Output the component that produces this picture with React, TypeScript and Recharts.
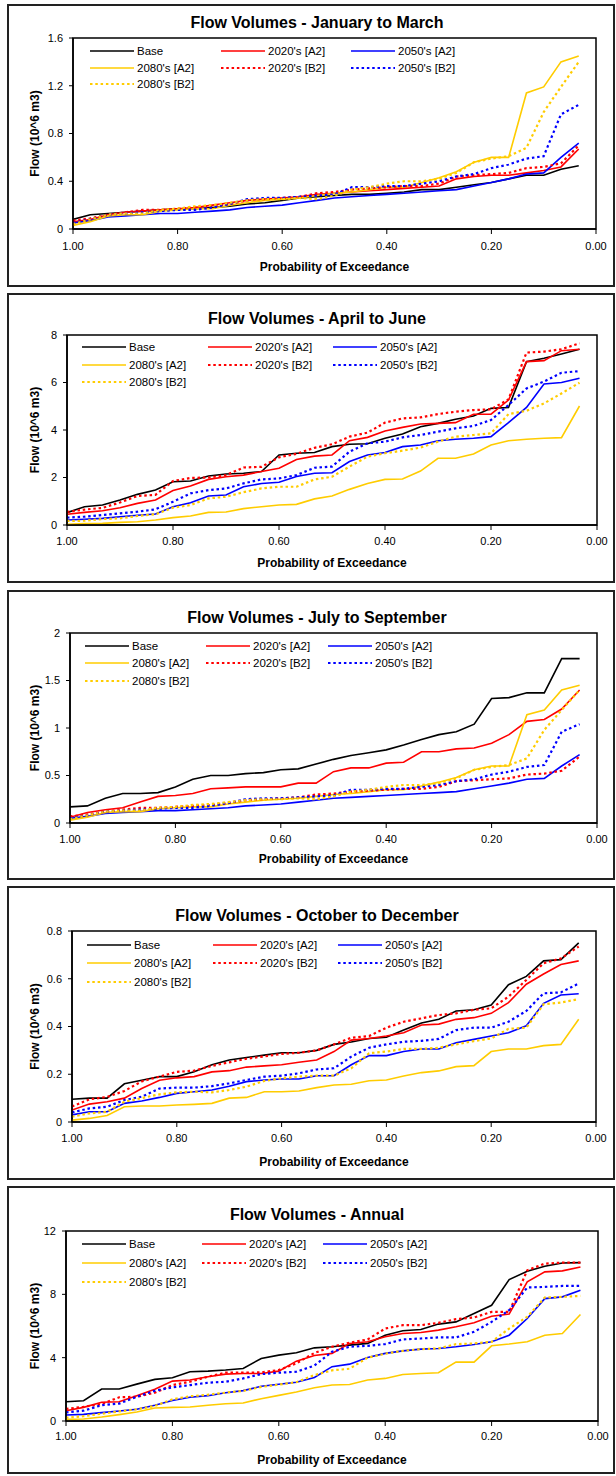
import React from "react";
import { LineChart, Line, XAxis, YAxis, ReferenceArea } from "recharts";

// probability of exceedance for each of the 30 ranked values
const probability = [
  1.0, 0.967, 0.933, 0.9, 0.867, 0.833, 0.8, 0.767, 0.733, 0.7, 0.667, 0.633, 0.6, 0.567, 0.533,
  0.5, 0.467, 0.433, 0.4, 0.367, 0.333, 0.3, 0.267, 0.233, 0.2, 0.167, 0.133, 0.1, 0.067, 0.033,
];
const xTicks = [0, 0.2, 0.4, 0.6, 0.8, 1];

const seriesNames = ["Base", "2020's [A2]", "2050's [A2]", "2080's [A2]", "2020's [B2]", "2050's [B2]", "2080's [B2]"];
const seriesKeys = ["base", "a2020", "a2050", "a2080", "b2020", "b2050", "b2080"];
const seriesColors = ["#000000", "#ff0000", "#0000ff", "#ffcc00", "#ff0000", "#0000ff", "#ffcc00"];
const seriesDotted = [false, false, false, false, true, true, true];

// January to March
const janMarBase = [0.08, 0.12, 0.13, 0.14, 0.15, 0.16, 0.17, 0.17, 0.18, 0.19, 0.21, 0.22, 0.24, 0.26, 0.27, 0.28, 0.29, 0.29, 0.3, 0.31, 0.33, 0.33, 0.35, 0.37, 0.39, 0.42, 0.45, 0.45, 0.5, 0.53];
const janMarA2020 = [0.06, 0.08, 0.12, 0.14, 0.15, 0.16, 0.17, 0.18, 0.2, 0.22, 0.24, 0.25, 0.26, 0.27, 0.29, 0.3, 0.31, 0.32, 0.33, 0.34, 0.35, 0.36, 0.42, 0.44, 0.45, 0.45, 0.47, 0.49, 0.52, 0.67];
const janMarA2050 = [0.05, 0.07, 0.1, 0.11, 0.12, 0.13, 0.13, 0.14, 0.15, 0.16, 0.18, 0.19, 0.2, 0.22, 0.24, 0.26, 0.27, 0.28, 0.29, 0.3, 0.31, 0.32, 0.33, 0.36, 0.39, 0.42, 0.46, 0.47, 0.6, 0.72];
const janMarA2080 = [0.03, 0.06, 0.11, 0.12, 0.12, 0.15, 0.16, 0.17, 0.17, 0.2, 0.22, 0.24, 0.25, 0.26, 0.28, 0.3, 0.31, 0.33, 0.35, 0.35, 0.39, 0.43, 0.48, 0.56, 0.6, 0.6, 1.14, 1.19, 1.4, 1.45];
const janMarB2020 = [0.07, 0.09, 0.12, 0.14, 0.16, 0.16, 0.17, 0.18, 0.19, 0.21, 0.24, 0.25, 0.26, 0.27, 0.3, 0.31, 0.33, 0.34, 0.35, 0.36, 0.36, 0.38, 0.44, 0.45, 0.46, 0.47, 0.51, 0.52, 0.55, 0.7];
const janMarB2050 = [0.05, 0.08, 0.12, 0.13, 0.14, 0.15, 0.16, 0.16, 0.18, 0.21, 0.25, 0.26, 0.26, 0.27, 0.28, 0.29, 0.35, 0.35, 0.36, 0.36, 0.38, 0.4, 0.44, 0.46, 0.51, 0.54, 0.59, 0.61, 0.96, 1.04];
const janMarB2080 = [0.04, 0.08, 0.12, 0.13, 0.13, 0.16, 0.17, 0.19, 0.2, 0.22, 0.24, 0.25, 0.25, 0.26, 0.25, 0.28, 0.33, 0.35, 0.38, 0.4, 0.4, 0.42, 0.47, 0.56, 0.59, 0.61, 0.68, 0.98, 1.19, 1.4];

// April to June
const aprJunBase = [0.52, 0.77, 0.84, 1.05, 1.29, 1.47, 1.82, 1.85, 2.06, 2.15, 2.18, 2.25, 2.95, 3.02, 3.05, 3.3, 3.4, 3.42, 3.65, 3.83, 4.14, 4.28, 4.45, 4.59, 4.91, 4.95, 6.88, 7.02, 7.2, 7.4];
const aprJunA2020 = [0.45, 0.53, 0.6, 0.73, 0.91, 1.05, 1.45, 1.64, 1.92, 2.03, 2.1, 2.25, 2.39, 2.76, 2.9, 2.95, 3.55, 3.69, 3.96, 4.11, 4.25, 4.28, 4.31, 4.66, 4.67, 5.26, 6.88, 6.92, 7.34, 7.4];
const aprJunA2050 = [0.21, 0.24, 0.28, 0.35, 0.41, 0.46, 0.77, 0.94, 1.22, 1.26, 1.61, 1.75, 1.8, 2.04, 2.18, 2.2, 2.67, 2.95, 3.05, 3.3, 3.37, 3.55, 3.61, 3.65, 3.72, 4.31, 4.95, 5.94, 6.0, 6.18];
const aprJunA2080 = [0.03, 0.06, 0.07, 0.11, 0.14, 0.21, 0.31, 0.38, 0.53, 0.55, 0.69, 0.77, 0.84, 0.87, 1.1, 1.22, 1.5, 1.75, 1.92, 1.94, 2.27, 2.81, 2.81, 2.99, 3.37, 3.55, 3.61, 3.65, 3.68, 5.01];
const aprJunB2020 = [0.55, 0.65, 0.72, 0.95, 1.22, 1.27, 1.85, 1.98, 2.0, 2.1, 2.42, 2.45, 2.85, 3.0, 3.25, 3.4, 3.72, 3.89, 4.31, 4.49, 4.53, 4.67, 4.77, 4.84, 4.87, 5.29, 7.26, 7.3, 7.4, 7.65];
const aprJunB2050 = [0.31, 0.35, 0.42, 0.49, 0.56, 0.66, 0.98, 1.33, 1.47, 1.54, 1.75, 1.92, 1.96, 2.1, 2.41, 2.46, 3.09, 3.44, 3.51, 3.69, 3.79, 3.93, 4.07, 4.17, 4.42, 5.05, 5.75, 6.04, 6.41, 6.48];
const aprJunB2080 = [0.17, 0.18, 0.25, 0.28, 0.38, 0.45, 0.73, 0.84, 1.12, 1.19, 1.38, 1.54, 1.61, 1.61, 1.92, 2.03, 2.46, 2.88, 3.02, 3.13, 3.26, 3.51, 3.72, 3.79, 3.86, 4.67, 4.81, 5.12, 5.54, 5.99];

// July to September (the scenario curves repeat the January to March ones in the source)
const julSepBase = [0.17, 0.18, 0.26, 0.31, 0.31, 0.32, 0.38, 0.46, 0.5, 0.5, 0.52, 0.53, 0.56, 0.57, 0.62, 0.67, 0.71, 0.74, 0.77, 0.82, 0.88, 0.93, 0.96, 1.04, 1.31, 1.32, 1.37, 1.37, 1.73, 1.73];
const julSepA2020 = [0.06, 0.11, 0.14, 0.16, 0.22, 0.28, 0.29, 0.31, 0.36, 0.37, 0.38, 0.38, 0.38, 0.42, 0.42, 0.54, 0.58, 0.58, 0.63, 0.64, 0.75, 0.75, 0.78, 0.79, 0.84, 0.93, 1.07, 1.09, 1.2, 1.4];

// October to December
const octDecBase = [0.095, 0.1, 0.1, 0.16, 0.175, 0.19, 0.19, 0.21, 0.24, 0.26, 0.27, 0.28, 0.29, 0.29, 0.3, 0.325, 0.335, 0.35, 0.355, 0.385, 0.415, 0.43, 0.465, 0.47, 0.49, 0.575, 0.61, 0.675, 0.68, 0.75];
const octDecA2020 = [0.05, 0.075, 0.085, 0.1, 0.14, 0.175, 0.185, 0.19, 0.21, 0.215, 0.23, 0.235, 0.24, 0.25, 0.26, 0.295, 0.343, 0.35, 0.36, 0.374, 0.406, 0.41, 0.43, 0.437, 0.455, 0.5, 0.577, 0.62, 0.66, 0.675];
const octDecA2050 = [0.03, 0.043, 0.043, 0.078, 0.088, 0.103, 0.12, 0.127, 0.134, 0.15, 0.169, 0.176, 0.18, 0.18, 0.194, 0.194, 0.24, 0.278, 0.278, 0.295, 0.306, 0.306, 0.332, 0.346, 0.36, 0.374, 0.403, 0.497, 0.532, 0.537];
const octDecA2080 = [0.008, 0.015, 0.027, 0.064, 0.067, 0.067, 0.071, 0.074, 0.078, 0.1, 0.103, 0.127, 0.127, 0.13, 0.144, 0.155, 0.158, 0.173, 0.176, 0.193, 0.207, 0.214, 0.232, 0.236, 0.295, 0.306, 0.306, 0.32, 0.325, 0.43];
const octDecB2020 = [0.065, 0.095, 0.105, 0.13, 0.17, 0.19, 0.21, 0.215, 0.235, 0.25, 0.265, 0.275, 0.285, 0.29, 0.3, 0.325, 0.353, 0.36, 0.395, 0.42, 0.434, 0.448, 0.455, 0.47, 0.476, 0.525, 0.595, 0.665, 0.685, 0.735];
const octDecB2050 = [0.04, 0.057, 0.064, 0.092, 0.106, 0.14, 0.144, 0.144, 0.15, 0.162, 0.176, 0.19, 0.194, 0.204, 0.22, 0.225, 0.274, 0.311, 0.325, 0.336, 0.34, 0.348, 0.385, 0.395, 0.395, 0.42, 0.465, 0.539, 0.543, 0.58];
const octDecB2080 = [0.022, 0.036, 0.043, 0.085, 0.1, 0.116, 0.124, 0.127, 0.124, 0.134, 0.148, 0.172, 0.183, 0.19, 0.194, 0.194, 0.225, 0.288, 0.295, 0.306, 0.306, 0.311, 0.325, 0.339, 0.35, 0.39, 0.395, 0.493, 0.5, 0.515];

// Annual
const annualBase = [1.22, 1.28, 2.02, 2.02, 2.33, 2.63, 2.73, 3.11, 3.15, 3.22, 3.32, 3.95, 4.16, 4.31, 4.62, 4.69, 4.79, 4.9, 5.42, 5.7, 5.78, 6.12, 6.26, 6.79, 7.31, 8.93, 9.46, 9.77, 9.98, 10.0];
const annualA2020 = [0.65, 0.86, 1.18, 1.22, 1.6, 2.0, 2.52, 2.59, 2.8, 2.96, 3.0, 3.0, 3.15, 3.78, 4.14, 4.27, 4.9, 5.0, 5.32, 5.53, 5.59, 5.74, 5.95, 6.2, 6.62, 6.75, 8.79, 9.42, 9.48, 9.73];
const annualA2050 = [0.38, 0.42, 0.53, 0.63, 0.74, 0.99, 1.3, 1.5, 1.6, 1.78, 1.92, 2.19, 2.32, 2.45, 2.75, 3.43, 3.59, 4.01, 4.27, 4.43, 4.54, 4.58, 4.69, 4.83, 5.0, 5.42, 6.47, 7.73, 7.84, 8.26];
const annualA2080 = [0.1, 0.13, 0.25, 0.4, 0.57, 0.82, 0.86, 0.88, 0.99, 1.09, 1.14, 1.41, 1.62, 1.83, 2.1, 2.27, 2.31, 2.59, 2.69, 2.94, 3.0, 3.05, 3.72, 3.72, 4.75, 4.86, 5.0, 5.42, 5.53, 6.73];
const annualB2020 = [0.76, 0.9, 1.07, 1.5, 1.53, 1.79, 2.27, 2.48, 2.8, 3.05, 3.05, 3.07, 3.22, 3.64, 4.3, 4.69, 4.94, 5.15, 5.84, 6.05, 6.05, 6.2, 6.43, 6.54, 6.89, 6.89, 9.52, 9.94, 10.0, 10.0];
const annualB2050 = [0.55, 0.65, 1.0, 1.1, 1.53, 1.91, 2.12, 2.27, 2.42, 2.48, 2.69, 2.96, 3.05, 3.11, 3.5, 4.37, 4.69, 4.75, 4.86, 5.15, 5.21, 5.28, 5.28, 5.63, 6.26, 7.0, 8.43, 8.47, 8.53, 8.53];
const annualB2080 = [0.21, 0.3, 0.46, 0.61, 0.74, 0.95, 1.37, 1.56, 1.66, 1.79, 1.9, 2.15, 2.3, 2.45, 2.9, 3.2, 3.3, 4.0, 4.25, 4.43, 4.54, 4.58, 4.85, 4.9, 5.0, 5.84, 6.58, 7.8, 7.84, 7.9];

const janMarTicks = [0, 0.4, 0.8, 1.2, 1.6];
const aprJunTicks = [0, 2, 4, 6, 8];
const julSepTicks = [0, 0.5, 1, 1.5, 2];
const octDecTicks = [0, 0.2, 0.4, 0.6, 0.8];
const annualTicks = [0, 4, 8, 12];

const FONT = '"Liberation Sans", Arial, sans-serif';

type PanelProps = {
  title: string;
  top: number;
  height: number;
  plot: { l: number; r: number; t: number; b: number };
  titleY: number;
  yTicks: number[];
  values: number[][];
  legendX: number[];
  legendY: number[];
  tickGap: number;
  labelGap: number;
};

const LegendSample = ({ color, dotted }: { color: string; dotted: boolean }) => (
  <svg width={44} height={4} style={{ position: "absolute", left: 0, top: -2 }}>
    <line x1={0} y1={2} x2={44} y2={2} stroke={color} strokeWidth={dotted ? 2.2 : 1.6} strokeDasharray={dotted ? "2.5 2.8" : undefined} />
  </svg>
);

const Panel = ({ title, top, height, plot, titleY, yTicks, values, legendX, legendY, tickGap, labelGap }: PanelProps) => {
  const rows = probability.map((p, i) => {
    const row: Record<string, number> = { p };
    seriesKeys.forEach((k, j) => {
      row[k] = values[j][i];
    });
    return row;
  });
  const yMax = yTicks[yTicks.length - 1];
  const pt = plot.t - top;
  const pb = plot.b - top;
  const xAxisH = 45;

  return (
    <div style={{ position: "absolute", left: 0, top, width: 616, height }}>
      <div style={{ position: "absolute", left: 7, top: 0, width: 608, height, border: "2px solid #222", boxSizing: "border-box" }} />
      <div style={{ position: "absolute", left: 0, top: titleY - top - 10, width: 634, textAlign: "center", fontSize: 16, fontWeight: "bold", lineHeight: "20px" }}>
        {title}
      </div>
      <div style={{ position: "absolute", left: 0, top: 0 }}>
        <LineChart width={616} height={height} data={rows} margin={{ top: pt, right: 616 - plot.r, bottom: height - pb - xAxisH, left: 0 }}>
          <ReferenceArea x1={0} x2={1} y1={0} y2={yMax} fill="none" stroke="#000" strokeWidth={1.5} />
          <XAxis
            type="number"
            dataKey="p"
            domain={[0, 1]}
            ticks={xTicks}
            reversed
            allowDataOverflow
            height={xAxisH}
            tickSize={5}
            tickMargin={tickGap}
            tickFormatter={(v: number) => v.toFixed(2)}
            tick={{ fill: "#000", fontSize: 11 }}
            axisLine={{ stroke: "#000", strokeWidth: 1.5 }}
            tickLine={{ stroke: "#000" }}
            label={{ value: "Probability of Exceedance", position: "insideBottom", offset: xAxisH - labelGap - 4.5, fill: "#000", fontSize: 12, fontWeight: "bold" }}
          />
          <YAxis
            type="number"
            domain={[0, yMax]}
            ticks={yTicks}
            width={plot.l}
            tickSize={4}
            tickMargin={6}
            tick={{ fill: "#000", fontSize: 11 }}
            axisLine={{ stroke: "#000", strokeWidth: 1.5 }}
            tickLine={{ stroke: "#000" }}
            label={{ value: "Flow (10^6 m3)", angle: -90, position: "insideLeft", offset: 35, fill: "#000", fontSize: 12, fontWeight: "bold", style: { textAnchor: "middle" } }}
          />
          {seriesKeys.map((k, j) => (
            <Line
              key={k}
              dataKey={k}
              name={seriesNames[j]}
              type="linear"
              stroke={seriesColors[j]}
              strokeWidth={seriesDotted[j] ? 2.2 : 1.6}
              strokeDasharray={seriesDotted[j] ? "2.5 2.8" : undefined}
              dot={false}
              activeDot={false}
              isAnimationActive={false}
            />
          ))}
        </LineChart>
      </div>
      {seriesNames.map((name, j) => (
        <div key={name} style={{ position: "absolute", left: legendX[j % 3], top: legendY[Math.floor(j / 3)] - top, height: 0 }}>
          <LegendSample color={seriesColors[j]} dotted={seriesDotted[j]} />
          <span style={{ position: "absolute", left: 47, top: -8, fontSize: 11.5, lineHeight: "16px", whiteSpace: "nowrap", color: "#000" }}>{name}</span>
        </div>
      ))}
    </div>
  );
};

export default function App() {
  return (
    <div style={{ position: "absolute", left: 0, top: 0, width: 616, height: 1476, background: "#fff", fontFamily: FONT, color: "#000" }}>
      <Panel
        title="Flow Volumes - January to March"
        top={4}
        height={283}
        plot={{ l: 73, r: 596, t: 38, b: 229 }}
        titleY={23}
        yTicks={janMarTicks}
        values={[janMarBase, janMarA2020, janMarA2050, janMarA2080, janMarB2020, janMarB2050, janMarB2080]}
        legendX={[90, 221, 351]}
        legendY={[51, 68, 84]}
        tickGap={8}
        labelGap={37}
      />
      <Panel
        title="Flow Volumes - April to June"
        top={293}
        height={290}
        plot={{ l: 67, r: 597, t: 335, b: 525 }}
        titleY={319}
        yTicks={aprJunTicks}
        values={[aprJunBase, aprJunA2020, aprJunA2050, aprJunA2080, aprJunB2020, aprJunB2050, aprJunB2080]}
        legendX={[82, 208, 333]}
        legendY={[347, 365, 382]}
        tickGap={7}
        labelGap={37}
      />
      <Panel
        title="Flow Volumes - July to September"
        top={590}
        height={290}
        plot={{ l: 70, r: 597, t: 633, b: 823 }}
        titleY={618}
        yTicks={julSepTicks}
        values={[julSepBase, julSepA2020, janMarA2050, janMarA2080, janMarB2020, janMarB2050, janMarB2080]}
        legendX={[85, 206, 328]}
        legendY={[646, 663, 681]}
        tickGap={7}
        labelGap={35}
      />
      <Panel
        title="Flow Volumes - October to December"
        top={886}
        height={294}
        plot={{ l: 72, r: 596, t: 931, b: 1122 }}
        titleY={916}
        yTicks={octDecTicks}
        values={[octDecBase, octDecA2020, octDecA2050, octDecA2080, octDecB2020, octDecB2050, octDecB2080]}
        legendX={[87, 213, 338]}
        legendY={[945, 963, 982]}
        tickGap={7}
        labelGap={39}
      />
      <Panel
        title="Flow Volumes - Annual"
        top={1186}
        height={288}
        plot={{ l: 66, r: 598, t: 1231, b: 1421 }}
        titleY={1215}
        yTicks={annualTicks}
        values={[annualBase, annualA2020, annualA2050, annualA2080, annualB2020, annualB2050, annualB2080]}
        legendX={[82, 202, 323]}
        legendY={[1244, 1263, 1282]}
        tickGap={6}
        labelGap={38}
      />
    </div>
  );
}
